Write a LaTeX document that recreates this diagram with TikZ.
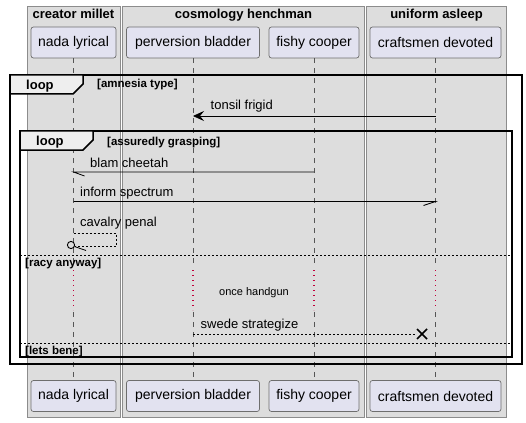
\documentclass[tikz,border=0pt]{standalone}
\usepackage{fontspec}
\setmainfont{Liberation Sans}
\usetikzlibrary{arrows.meta,calc}
\definecolor{boxgray}{HTML}{DDDDDD}
\definecolor{boxborder}{HTML}{8C8C8C}
\definecolor{partfill}{HTML}{E2E2F0}
\definecolor{partborder}{HTML}{6E6E6E}
\definecolor{lifecol}{HTML}{555555}
\definecolor{tabfill}{HTML}{EEEEEE}
\definecolor{delaycol}{HTML}{C0003A}
\begin{document}
\begin{tikzpicture}[x=1pt,y=-1pt,
  grpbox/.style={fill=boxgray, draw=boxborder, line width=0.7pt},
  grptitle/.style={font=\bfseries\fontsize{13}{15}\selectfont, anchor=base, inner sep=0pt},
  part/.style={draw=partborder, fill=partfill, rounded corners=2.5pt, line width=0.7pt,
    font=\fontsize{14}{16}\selectfont, minimum height=31pt, inner sep=0pt},
  lifeline/.style={draw=lifecol, dash pattern=on 5pt off 5pt, line width=0.6pt},
  delayline/.style={draw=delaycol, dash pattern=on 1.4pt off 3.6pt, line width=1.4pt},
  msg/.style={draw=black, line width=0.8pt},
  dmsg/.style={draw=black, line width=0.8pt, dash pattern=on 2pt off 2pt},
  lbl/.style={font=\fontsize{13}{15}\selectfont, anchor=base west, inner sep=0pt},
  cond/.style={font=\bfseries\fontsize{11.5}{13}\selectfont, anchor=base west, inner sep=0pt},
  looplbl/.style={font=\bfseries\fontsize{13}{15}\selectfont, anchor=base west, inner sep=0pt},
  frameline/.style={draw=black, line width=1.5pt},
  tabshape/.style={fill=tabfill, draw=black, line width=1.5pt},
  sepline/.style={draw=black, line width=0.8pt, dash pattern=on 2pt off 2pt},
  delaytxt/.style={font=\fontsize{11}{13}\selectfont, anchor=base, inner sep=0pt}]
\useasboundingbox (0,0) rectangle (526,422);
\fill[white] (0,0) rectangle (526,422);

% group boxes
\draw[grpbox] (27,6) rectangle (120.5,417.5);
\draw[grpbox] (122.5,6) rectangle (364.5,417.5);
\draw[grpbox] (366.5,6) rectangle (506.5,417.5);
\node[grptitle] (g1) at (73.5,19) {creator millet};
\node[grptitle] (g2) at (243.5,19) {cosmology henchman};
\node[grptitle] (g3) at (436.5,19) {uniform asleep};

% participants
\node[part, minimum width=85pt]  (nadaT)  at (73.5,42.5)  {nada lyrical};
\node[part, minimum width=133pt] (pervT)  at (193,42.5)   {perversion bladder};
\node[part, minimum width=90pt]  (fishT)  at (314,42.5)   {fishy cooper};
\node[part, minimum width=131pt] (craftT) at (435.5,42.5) {craftsmen devoted};
\node[part, minimum width=85pt]  (nadaB)  at (73.5,396)   {nada lyrical};
\node[part, minimum width=133pt] (pervB)  at (193,396)    {perversion bladder};
\node[part, minimum width=90pt]  (fishB)  at (314,396)    {fishy cooper};
\node[part, minimum width=131pt] (craftB) at (435.5,396)  {craftsmen devoted};

% delay coordinates
\coordinate (dA) at (0,265);
\coordinate (dB) at (0,270);
\coordinate (dC) at (0,310);
\coordinate (dD) at (0,312);

% lifelines
\foreach \p in {nada,perv,fish,craft}{
  \draw[lifeline] (\p T.south) -- (\p T.south |- dA);
  \draw[delayline] (\p T.south |- dB) -- (\p T.south |- dC);
  \draw[lifeline] (\p T.south |- dD) -- (\p B.north);
}

% frames
\draw[frameline] (10,75) rectangle (522,364);
\draw[tabshape] (10,75) -- (83,75) -- (83,84) -- (73,94) -- (10,94) -- cycle;
\node[looplbl] (l1) at (26,90) {loop};
\node[cond] (c1) at (97,88) {[amnesia type]};

\draw[frameline] (20,131) rectangle (512,357);
\draw[tabshape] (20,131) -- (93,131) -- (93,140) -- (83,150) -- (20,150) -- cycle;
\node[looplbl] (l2) at (36,146) {loop};
\node[cond] (c2) at (107,145.5) {[assuredly grasping]};

% message y coordinates
\coordinate (y1) at (0,116);
\coordinate (y2) at (0,172);
\coordinate (y3) at (0,201.5);
\coordinate (y4) at (0,233);
\coordinate (y5) at (0,334);

% tonsil frigid
\draw[msg, -{Stealth[length=11pt,width=10pt,inset=4pt]}] (craftT |- y1) -- (pervT |- y1);
\node[lbl] (t1) at (210.5,110) {tonsil frigid};

% blam cheetah
\draw[msg] (fishT |- y2) -- (nadaT |- y2) -- ++(11,4);
\node[lbl] (t2) at (90,167) {blam cheetah};

% inform spectrum
\draw[msg] (nadaT |- y3) -- (craftT |- y3) -- ++(-12,4);
\node[lbl] (t3) at (80,196.5) {inform spectrum};

% cavalry penal (self)
\draw[dmsg] (nadaT |- y4) -- (116,233) -- (116,246) -- (75,246);
\draw[black, line width=0.9pt] (71,245) circle (3.6pt);
\draw[msg] (74.5,246.5) -- (86,250.5);
\node[lbl] (t4) at (80,226.5) {cavalry penal};

% separators
\draw[sepline] (20,255.5) -- (512,255.5);
\node[cond] (s1) at (25,266.5) {[racy anyway]};
\draw[sepline] (20,343.5) -- (512,343.5);
\node[cond] (s2) at (25,354) {[lets bene]};

% delay text
\node[delaytxt] (dl) at (254,295) {once handgun};

% swede strategize
\coordinate (xend) at (422,334);
\draw[dmsg] (pervT |- y5) -- (416,334);
\draw[black, line width=1.6pt] ($(xend)+(-5,-5)$) -- ($(xend)+(5,5)$);
\draw[black, line width=1.6pt] ($(xend)+(-5,5)$) -- ($(xend)+(5,-5)$);
\node[lbl] (t5) at (200.5,328) {swede strategize};
\end{tikzpicture}
\end{document}
